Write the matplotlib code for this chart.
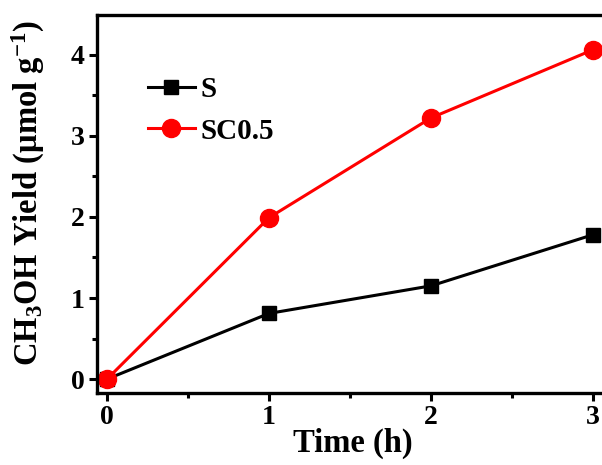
import matplotlib
matplotlib.use("Agg")
import matplotlib.pyplot as plt
from matplotlib.ticker import MultipleLocator

plt.rcParams['font.family'] = ['Liberation Serif', 'DejaVu Serif']
plt.rcParams['font.weight'] = 'bold'
plt.rcParams['mathtext.fontset'] = 'custom'
plt.rcParams['mathtext.rm'] = 'Liberation Serif:bold'
plt.rcParams['mathtext.it'] = 'Liberation Serif:bold:italic'
plt.rcParams['mathtext.bf'] = 'Liberation Serif:bold'

time_h = [0, 1, 2, 3]
s_yield = [0, 0.81, 1.15, 1.78]
sc05_yield = [0, 1.99, 3.22, 4.06]
x_ticks = [0, 1, 2, 3]
y_ticks = [0, 1, 2, 3, 4]

fig = plt.figure(figsize=(6.02, 4.65), dpi=100)
ax = fig.add_axes([0.161, 0.155, 0.851, 0.813])

ax.plot(time_h, s_yield, color='black', marker='s', markersize=10, linewidth=2.2, label='S')
ax.plot(time_h, sc05_yield, color='#ff0000', marker='o', markersize=13, linewidth=2.2, label='SC0.5')

ax.set_xlim(-0.062, 3.1)
ax.set_ylim(-0.17, 4.49)
ax.set_xticks(x_ticks)
ax.set_yticks(y_ticks)
ax.xaxis.set_minor_locator(MultipleLocator(0.5))
ax.yaxis.set_minor_locator(MultipleLocator(0.5))
ax.tick_params(which='major', direction='out', length=6, width=2.2, labelsize=20, pad=3)
ax.tick_params(which='minor', direction='out', length=3.5, width=2.2)
for sp in ax.spines.values():
    sp.set_linewidth(2.4)

ax.set_xlabel('Time (h)', fontsize=23.5, fontweight='bold', labelpad=-2)
ax.set_ylabel('CH$_3$OH Yield (μmol g$^{-1}$)', fontsize=23.5, fontweight='bold')
ax.yaxis.set_label_coords(-0.098, 0.53)

leg = ax.legend(loc='upper left', bbox_to_anchor=(0.10, 0.838), frameon=False,
                fontsize=21, handlelength=1.6, handletextpad=0.2, labelspacing=0.5,
                borderpad=0, borderaxespad=0)

fig.savefig('out.png', dpi=100)
